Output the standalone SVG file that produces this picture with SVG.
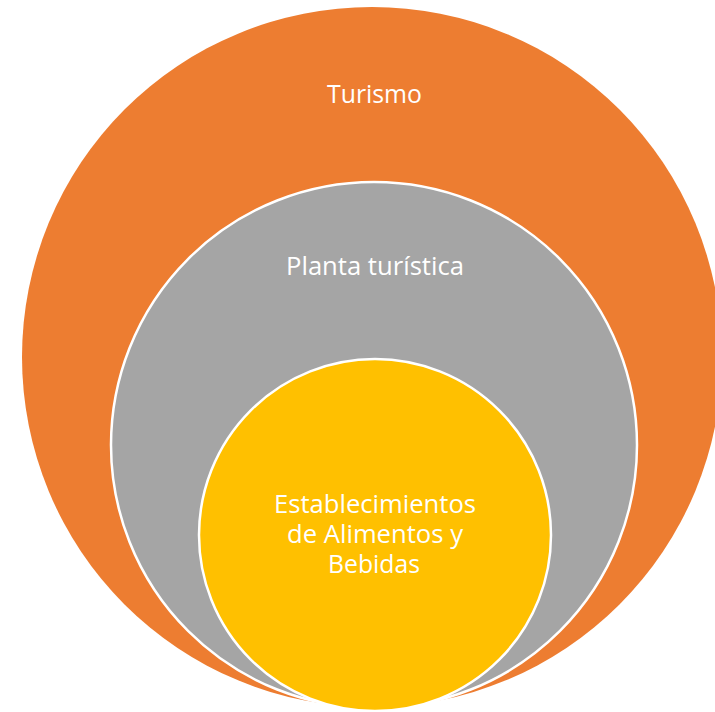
<svg xmlns="http://www.w3.org/2000/svg" width="715" height="712" viewBox="0 0 715 712">
<style>
.lbl{font-family:"Open Sans","Noto Sans","Liberation Sans",sans-serif;font-size:25px;fill:#fff;text-anchor:middle}
.ring{stroke:#fff;stroke-width:2.5}
</style>
<rect width="715" height="712" fill="#fff"/>
<g id="turismo">
<circle cx="372" cy="357" r="350" fill="#ED7D31"/>
<text class="lbl" x="374.5" y="103" textLength="95" lengthAdjust="spacingAndGlyphs">Turismo</text>
</g>
<g id="planta">
<circle class="ring" cx="374" cy="445" r="263" fill="#A5A5A5"/>
<text class="lbl" x="375" y="275" textLength="178" lengthAdjust="spacingAndGlyphs">Planta turística</text>
</g>
<g id="establecimientos">
<circle class="ring" cx="375" cy="535" r="176" fill="#FFC000"/>
<text class="lbl" x="375" y="513" textLength="202" lengthAdjust="spacingAndGlyphs">Establecimientos</text>
<text class="lbl" x="375" y="543" textLength="176" lengthAdjust="spacingAndGlyphs">de Alimentos y</text>
<text class="lbl" x="374" y="573" textLength="92" lengthAdjust="spacingAndGlyphs">Bebidas</text>
</g>
<g id="connectors"/>
</svg>
